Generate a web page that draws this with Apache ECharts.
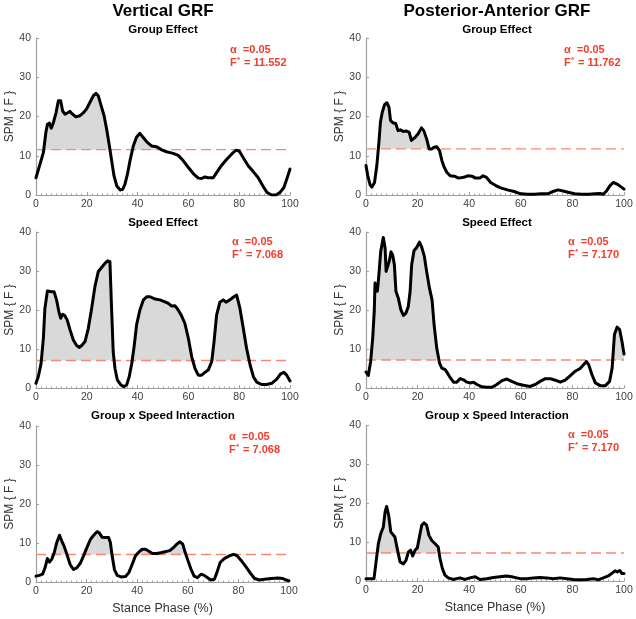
<!DOCTYPE html>
<html><head><meta charset="utf-8">
<script src="https://cdn.jsdelivr.net/npm/echarts@6/dist/echarts.min.js"></script>
<style>html,body{margin:0;padding:0;background:#fff}#c{width:636px;height:619px}</style>
</head><body><div id="c"></div>
<script>
// ---- Data ----
const xTicks = [0, 20, 40, 60, 80, 100];
const yTicks = [0, 10, 20, 30, 40];
const colTitles = ['Vertical GRF', 'Posterior-Anterior GRF'];
const rowTitles = ['Group Effect', 'Speed Effect', 'Group x Speed Interaction'];
const alphaLabel = '0.05';
const thresholds = [11.552, 11.762, 7.068, 7.170, 7.068, 7.170];

const vertGroupX = [0,2.9,3.9,4.5,5.3,6,6.8,7.9,8.8,9.7,10.5,11.4,12.3,13.4,14.4,15.7,17.3,18.6,20,21.3,22.6,23.6,24.5,25.5,26.8,27.8,28.9,29.8,30.7,31.8,33.1,34.1,35,36,37,38.3,39.6,40.9,42.3,43.8,45.5,47.5,49.5,51.4,54,56,58,60,62,63.9,65.2,66.5,67.8,69.8,71.1,73.1,75.1,77,78.7,80,81.6,83.6,85.6,87.5,89.5,91,92.8,94.5,96,97.6,98.9,100];
const vertGroupY = [4.4,10.8,16,18,18.3,17,18.3,21,24,24,21.4,20.6,20.9,21.3,20.6,19.9,20.2,20.9,22,23.7,25.3,25.9,25.3,23.1,20.2,16.8,12.5,8.7,4.9,2.3,1.3,1.4,2.7,5.3,8.7,12.5,14.8,15.7,14.6,13.4,12.5,12.3,11.5,11,10.6,10.1,8.7,7,5.4,4.3,4.2,4.6,4.4,4.4,5.7,7.6,9.1,10.4,11.4,11.2,9.5,7.4,5.9,4.4,2.1,0.6,0,0,0.6,1.9,4.4,6.6];

const paGroupX = [0,0.7,1.6,2.3,3.3,4.2,5,5.6,6.3,7.2,8.1,8.9,9.5,10.4,11.5,12.4,13.3,14.4,15.7,16.7,17.6,18.9,20.2,21.5,22.4,23.5,24.5,25.4,26.4,27.4,28.5,29.4,30.3,31.3,32.6,34.2,35.9,37.9,39.4,41.1,42.4,44.1,45.4,46.7,48.3,50.3,52.2,54.8,57.4,60,62.7,65.3,67.9,70.5,72.5,74.4,76.4,78.3,80.9,83.6,86.2,88.8,90.7,92,93.3,94.6,95.9,97.3,98.6,99.2,100];
const paGroupY = [7.5,4.9,2.6,2,3.2,7.5,13.4,18.6,21.1,23,23.5,22.4,19,18.4,18.2,16.4,16.6,16.2,16.3,16,13.9,14.6,15.6,17.1,16.4,14.3,11.7,11.7,12.2,12.3,11.3,8.8,7.1,5.8,4.9,4.8,4.3,4.5,4.9,4.8,4.3,4.3,4.9,4.5,3.2,2.4,1.8,1.3,0.9,0.3,0.2,0.2,0.3,0.3,0.9,1.3,1,0.7,0.3,0.2,0.2,0.3,0.4,0.2,1.1,2.4,3.2,2.8,2.2,2.4,1.5];

const vertSpeedX = [0,0.9,2,2.9,3.5,4.5,5.2,6.2,7.1,8.1,9,9.7,10.5,11.4,12.3,13.4,14.7,16,17.1,18,19.3,20.6,21.9,23.2,24.5,25.8,27.2,28.2,29.1,29.8,30.4,31.1,32,33.4,34.6,35.7,36.7,37.7,38.7,39.6,40.9,42.3,43.6,44.9,46.9,48.8,50.8,52.1,53.4,54.7,56,57.3,58.6,60,61.3,62.6,63.9,65.2,66.5,67.8,69.2,70.1,71.1,72.4,73.7,74.8,76.3,77.9,79,80.3,81.6,82.9,84.3,85.6,86.9,88.8,90.8,92.8,94.8,96.3,97.6,98.7,100];
const vertSpeedY = [1.2,2.9,6.3,12.7,20.4,24.9,25.1,24.7,24.7,22.6,19.6,17.9,18.9,18.5,17.4,14.9,12.3,10.9,10.4,10.9,11.9,15.3,20.4,26,29.8,30.9,32,32.6,32.4,19.6,9.3,5,2.1,0.8,0.3,0.8,2.9,6.3,11,16.2,20,22.6,23.4,23.4,22.8,22.6,22.1,21.7,21,21.1,20,18.5,16.6,12.7,8,5,3.3,3.3,4,4.6,6.8,11.9,18.7,22,22.6,22,22.6,23.4,23.8,20.4,15.3,10.2,5.9,2.9,1.5,0.9,0.9,1.2,2.3,3.6,4,3.3,1.8];

const paSpeedX = [0,0.9,1.8,2.6,3.2,3.5,4.1,4.4,5,5.7,6.7,7.4,7.8,8.5,9,9.7,10.3,11,11.6,12.5,13.5,14.5,15.5,16.4,17.1,17.7,18.6,19.7,20.7,21.6,22.6,23.5,24.6,25.6,26.4,27.4,28.5,29.4,30.7,31.6,32.6,33.9,35.2,36.5,37.8,39.1,40.4,41.7,43,44.9,46.8,48.8,50.7,52.7,54.6,56.5,58.5,61,63.6,65.6,67.5,69.5,71.4,73.4,75.3,77.2,79.2,81.1,83,84.4,85.4,86.3,87.6,88.9,90.8,92.8,94.4,95.4,96.3,97.3,98.3,99.2,100];
const paSpeedY = [4.1,3.2,6.8,12.8,19.7,26.9,26.7,24.8,29,35,38.6,35.9,29.9,30.3,32.5,34.9,34.2,31.6,24.8,23.1,20.1,18.6,19.2,20.9,24.8,31.6,35.2,36.1,37.4,36.1,33.8,29.9,25.6,22.6,16.2,10.3,6.4,5.1,4.7,3.8,2.7,1.5,1.5,2.4,2.1,1.5,1.3,1.5,0.9,0.3,0.2,0.2,0.9,1.9,2.3,1.7,1.1,0.7,0.4,0.9,1.7,2.4,2.4,2,1.5,2,3.2,4.3,5,6,6.8,6,3.4,1.3,0.6,0.6,1.7,5.1,13.7,15.6,15,12,8.7];

const vertInterX = [0,1.3,2.6,3.6,4.5,5.3,6.2,7.2,8.2,9.3,10.2,11.1,12.2,13.5,14.8,16.2,17.5,18.8,20.1,21.5,22.8,24.1,25,26.1,27.4,28.7,29.4,30.1,31,32.1,33.6,35.4,36.7,38,39.3,40.7,42,43.3,44.6,46,47.7,49.3,51.3,53,54.3,55.6,56.9,58,58.8,59.9,61.2,62.5,63.8,65.2,66.5,67.8,69.1,70.5,71.5,72.8,74.4,76.4,78.1,79.4,81,83,84.8,86.4,88.3,90.3,93,95.6,97.6,98.9,100];
const vertInterY = [1.5,1.7,2,3.7,6,5.1,5.8,7.5,10.1,12,10.5,9.2,7.1,4.5,3.2,3.7,4.8,6.7,8.8,10.9,12,12.9,12.6,11.5,11.4,11.4,10.1,6.7,3.2,1.7,1.3,1.4,2.4,4.5,6.7,7.7,8.4,8.4,7.9,7.3,7.3,7.5,7.8,8.1,8.8,9.7,10.3,9.7,7.9,5.8,3.4,1.5,1.1,2,1.7,1.1,0.5,0.7,2.4,5,6,6.7,7.1,6.8,5.6,3.9,2.2,0.9,0.5,0.7,0.9,1,0.9,0.5,0.3];

const paInterX = [0,1.6,3.1,3.9,4.8,5.7,6.7,7.4,8,8.8,9.6,10.3,11.2,12.1,13.2,14.5,15.5,16.4,17.3,18.1,19,19.9,20.7,21.6,22.5,23.5,24.4,25.5,26.7,28,28.7,29.6,30.6,31.9,33.9,36.4,38.4,40.3,42.3,44.2,46.8,49.4,51.9,54.5,57.1,59.7,62.3,64.9,67.4,70,72.6,75.2,77.8,80.4,82.9,85.5,88.1,90,92,93.9,95.2,96.5,97.4,98.4,99.2,100];
const paInterY = [0.6,0.6,0.6,4.9,9.6,12.1,13.8,17.7,19.1,16.8,12.6,12.1,11.3,8.3,4.9,4.4,5.3,7.4,7.9,6.4,7.9,8.5,11.3,14.3,14.9,14.3,11.7,10.4,9.6,8.7,5.7,3.2,1.5,0.8,0.4,0.8,0.4,0.8,1.1,0.4,0.6,0.9,1.1,1.3,1,0.6,0.6,0.8,0.9,0.8,0.6,0.8,0.6,0.4,0.3,0.4,0.6,0.3,0.8,1.3,1.9,2.6,2.3,2.7,1.9,1.9];

const panelXs = [vertGroupX, paGroupX, vertSpeedX, paSpeedX, vertInterX, paInterX];
const panelYs = [vertGroupY, paGroupY, vertSpeedY, paSpeedY, vertInterY, paInterY];

// ---- Layout ----
const FONT = '"Liberation Sans", Arial, Helvetica, sans-serif';
const gridPos = [
  {left: 36, top: 38, width: 254, height: 157},
  {left: 366, top: 38, width: 258, height: 157},
  {left: 36, top: 232, width: 254, height: 156},
  {left: 366, top: 232, width: 258, height: 156},
  {left: 36, top: 426, width: 253, height: 156},
  {left: 366, top: 425, width: 258, height: 156}
];
const annotPos = [[230, 51], [564, 51], [232, 243], [568, 243], [229, 438], [568, 436]];
const colCenters = [163, 497];
const rowTitleY = [30, 223, 416];

function clipAbove(xs, ys, t) {
  const out = [];
  for (let i = 0; i < xs.length; i++) {
    out.push([xs[i], Math.max(ys[i], t)]);
    if (i < xs.length - 1) {
      const a = ys[i] - t, b = ys[i + 1] - t;
      if (a * b < 0) {
        const xc = xs[i] + (xs[i + 1] - xs[i]) * (a / (a - b));
        out.push([xc, t]);
      }
    }
  }
  return out;
}

const grids = [], xAxes = [], yAxes = [], series = [], graphics = [];
const axisGrey = '#a0a0a0';
const red = '#f23c2c';
for (let p = 0; p < 6; p++) {
  grids.push(Object.assign({containLabel: false}, gridPos[p]));
  const bottom = p >= 4;
  xAxes.push({
    type: 'value', gridIndex: p, min: xTicks[0], max: xTicks[xTicks.length - 1], interval: 20,
    axisLine: {show: true, onZero: false, lineStyle: {color: axisGrey, width: 1.2}},
    axisTick: {show: true, inside: true, length: 3, lineStyle: {color: axisGrey}},
    minorTick: {show: true, splitNumber: 10, length: 1.5, lineStyle: {color: axisGrey}},
    splitLine: {show: false},
    axisLabel: {color: '#404040', fontSize: 10.5, fontFamily: FONT, margin: 4},
    name: bottom ? 'Stance Phase (%)' : '', nameLocation: 'middle', nameGap: 20,
    nameTextStyle: {color: '#303030', fontSize: 12.5, fontFamily: FONT}
  });
  yAxes.push({
    type: 'value', gridIndex: p, min: yTicks[0], max: yTicks[yTicks.length - 1], interval: 10,
    axisLine: {show: true, lineStyle: {color: axisGrey, width: 1.2}},
    axisTick: {show: true, inside: true, length: 3, lineStyle: {color: axisGrey}},
    splitLine: {show: false},
    axisLabel: {color: '#404040', fontSize: 10.5, fontFamily: FONT, margin: 5},
    name: 'SPM { F }', nameLocation: 'middle', nameGap: 20, nameRotate: 90,
    nameTextStyle: {color: '#303030', fontSize: 12, fontFamily: FONT}
  });
  const t = thresholds[p];
  const xs = panelXs[p], ys = panelYs[p];
  series.push({
    type: 'line', xAxisIndex: p, yAxisIndex: p, data: clipAbove(xs, ys, t),
    showSymbol: false, silent: true, z: 1,
    lineStyle: {width: 0, color: '#d9d9d9'},
    areaStyle: {color: '#d9d9d9', opacity: 1, origin: t}
  });
  series.push({
    type: 'line', xAxisIndex: p, yAxisIndex: p,
    data: [[xTicks[0], t], [xTicks[xTicks.length - 1], t]],
    showSymbol: false, silent: true, z: 2,
    lineStyle: {color: '#f5896d', width: 1.4, type: [10, 5]}
  });
  series.push({
    type: 'line', xAxisIndex: p, yAxisIndex: p,
    data: xs.map((x, i) => [x, ys[i]]),
    showSymbol: false, silent: true, z: 3,
    lineStyle: {color: '#000', width: 3, join: 'round', cap: 'round'}
  });
  const [ax, ay] = annotPos[p];
  graphics.push({
    type: 'text', left: ax, top: ay - 7,
    style: {text: '\u03B1  =' + alphaLabel, fill: red, font: 'bold 11px ' + FONT}
  });
  graphics.push({
    type: 'text', left: ax, top: ay + 6,
    style: {text: 'F', fill: red, font: 'bold 11px ' + FONT}
  });
  graphics.push({
    type: 'text', left: ax + 7, top: ay + 5,
    style: {text: '*', fill: red, font: 'bold 8px ' + FONT}
  });
  graphics.push({
    type: 'text', left: ax + 11, top: ay + 6,
    style: {text: ' = ' + t.toFixed(3), fill: red, font: 'bold 11px ' + FONT}
  });
}
for (let c = 0; c < 2; c++) {
  graphics.push({
    type: 'text', x: colCenters[c], y: 11,
    style: {text: colTitles[c], fill: '#000', font: 'bold 17px ' + FONT, align: 'center', verticalAlign: 'middle'}
  });
  for (let r = 0; r < 3; r++) {
    graphics.push({
      type: 'text', x: colCenters[c], y: rowTitleY[r],
      style: {text: rowTitles[r], fill: '#000', font: 'bold 11.5px ' + FONT, align: 'center', verticalAlign: 'middle'}
    });
  }
}

const chart = echarts.init(document.getElementById('c'), null, {renderer: 'canvas'});
chart.setOption({
  animation: false,
  backgroundColor: '#fff',
  grid: grids, xAxis: xAxes, yAxis: yAxes, series: series, graphic: graphics
});
</script></body></html>
